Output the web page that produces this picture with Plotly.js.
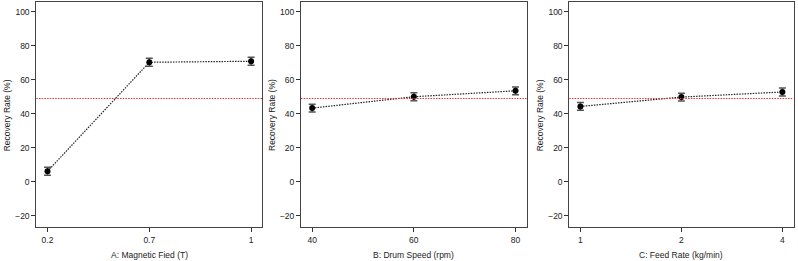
<!DOCTYPE html>
<html>
<head>
<meta charset="utf-8">
<script src="https://cdn.plot.ly/plotly-3.0.1.min.js"></script>
<style>
html,body{margin:0;padding:0;background:#fff;}
#chart{width:798px;height:261px;}
</style>
</head>
<body>
<div id="chart"></div>
<script>
// ---- data ----
const factorATicks = ['0.2', '0.7', '1'];
const factorAValues = [6.1, 70.3, 70.9];
const factorAErrors = [2.3, 2.3, 2.3];

const factorBTicks = ['40', '60', '80'];
const factorBValues = [43.3, 50.0, 53.5];
const factorBErrors = [2.3, 2.3, 2.3];

const factorCTicks = ['1', '2', '4'];
const factorCValues = [44.3, 49.8, 52.8];
const factorCErrors = [2.3, 2.3, 2.3];

const grandMean = 49.0;

const xTitles = ['A: Magnetic Fied (T)', 'B: Drum Speed (rpm)', 'C: Feed Rate (kg/min)'];
const yTitle = 'Recovery Rate (%)';
const yTickVals = [-20, 0, 20, 40, 60, 80, 100];

// ---- build ----
const W = 798, H = 261;
const panels = [
  {ticks: factorATicks, vals: factorAValues, errs: factorAErrors, left: 36.3, right: 262.3},
  {ticks: factorBTicks, vals: factorBValues, errs: factorBErrors, left: 301, right: 526.7},
  {ticks: factorCTicks, vals: factorCValues, errs: factorCErrors, left: 569.3, right: 793.5}
];
const boxTop = 2, boxBottom = 227.3;
const font = 'Liberation Sans, Arial, sans-serif';

const traces = [];
const layout = {
  width: W, height: H,
  margin: {l: 0, r: 0, t: 0, b: 0},
  paper_bgcolor: '#fff', plot_bgcolor: '#fff',
  showlegend: false,
  font: {family: font, size: 8.5, color: '#222'},
  shapes: [], annotations: []
};

panels.forEach((p, i) => {
  const n = i === 0 ? '' : String(i + 1);
  const xa = 'x' + n, ya = 'y' + n;
  layout.shapes.push({
    type: 'line', xref: xa + ' domain', yref: ya,
    x0: 0, x1: 1, y0: grandMean, y1: grandMean,
    line: {color: '#e8332e', width: 1.1, dash: '1.5px,1.2px'}
  });
  traces.push({
    type: 'scatter', mode: 'lines+markers',
    x: p.ticks.map((_, k) => k), y: p.vals,
    xaxis: xa, yaxis: ya,
    line: {color: '#222', width: 1.2, dash: '1.5px,1.2px'},
    marker: {color: '#000', size: 6, symbol: 'circle'},
    error_y: {type: 'data', array: p.errs, visible: true, color: '#555', thickness: 1.5, width: 3.5},
    hoverinfo: 'skip'
  });
  layout['xaxis' + n] = {
    domain: [p.left / W, p.right / W],
    anchor: ya,
    range: [-0.11, 2.11],
    tickvals: [0, 1, 2], ticktext: p.ticks,
    ticks: 'outside', ticklen: 4, tickwidth: 1, tickcolor: '#333',
    showline: true, linecolor: '#444', linewidth: 1, mirror: true,
    showgrid: false, zeroline: false,
    tickfont: {family: font, size: 8.5, color: '#222'},
    fixedrange: true
  };
  layout['yaxis' + n] = {
    domain: [1 - boxBottom / H, 1 - boxTop / H],
    anchor: xa,
    range: [-26.9, 105.8],
    tickvals: yTickVals,
    ticks: 'outside', ticklen: 4, tickwidth: 1, tickcolor: '#333',
    showline: true, linecolor: '#444', linewidth: 1, mirror: true,
    showgrid: false, zeroline: false,
    tickfont: {family: font, size: 8.5, color: '#222'},
    fixedrange: true
  };
  layout.annotations.push({
    text: xTitles[i], xref: 'paper', yref: 'paper',
    x: ((p.left + p.right) / 2) / W, y: 1 - 255 / H,
    xanchor: 'center', yanchor: 'middle', showarrow: false,
    font: {family: font, size: 8.5, color: '#222'}
  });
  layout.annotations.push({
    text: yTitle, xref: 'paper', yref: 'paper',
    x: (p.left - 29) / W, y: 1 - 115 / H,
    xanchor: 'center', yanchor: 'middle', showarrow: false, textangle: -90,
    font: {family: font, size: 8.5, color: '#222'}
  });
});

Plotly.newPlot('chart', traces, layout, {displayModeBar: false, staticPlot: true});
</script>
</body>
</html>
